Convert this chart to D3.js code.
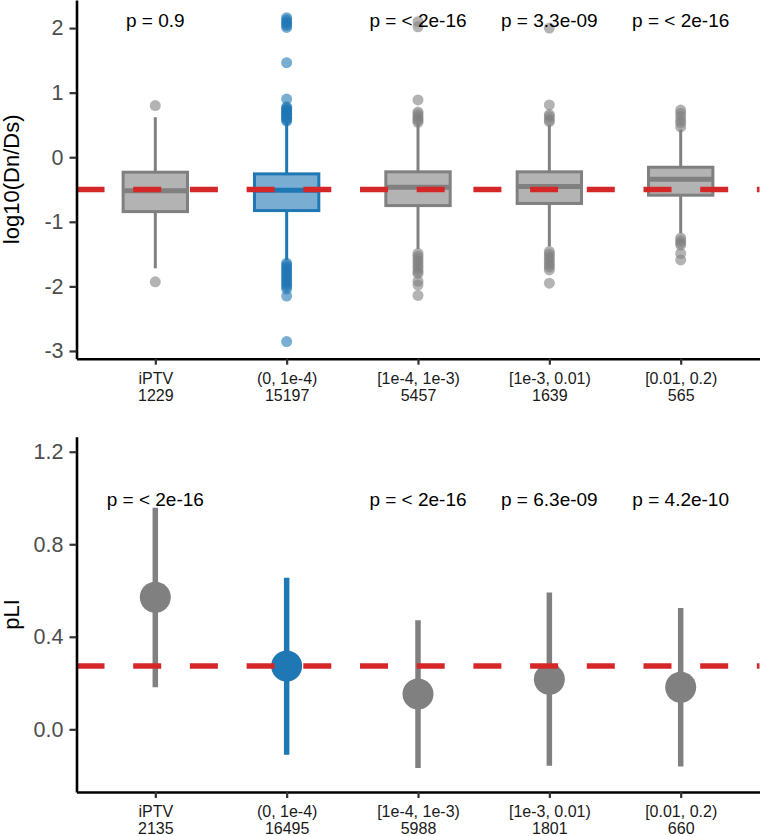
<!DOCTYPE html>
<html>
<head>
<meta charset="utf-8">
<script src="https://cdn.jsdelivr.net/npm/d3@7"></script>
<style>
  html, body { margin: 0; padding: 0; background: #fff; }
  svg { display: block; font-family: "Liberation Sans", Arial, sans-serif; }
</style>
</head>
<body>
<svg id="chart" width="764" height="836"></svg>
<script>
// ---------------- data ----------------
const categories = ["iPTV", "(0, 1e-4)", "[1e-4, 1e-3)", "[1e-3, 0.01)", "[0.01, 0.2)"];
const highlight = [false, true, false, false, false];

// panel 1: log10(Dn/Ds) boxplots
const dndsN = [1229, 15197, 5457, 1639, 565];
const dndsQ1 = [-0.842, -0.826, -0.749, -0.716, -0.588];
const dndsMedian = [-0.52, -0.51, -0.466, -0.452, -0.342];
const dndsQ3 = [-0.232, -0.258, -0.226, -0.226, -0.155];
const dndsWhiskerLow = [-1.72, -1.59, -1.42, -1.38, -1.18];
const dndsWhiskerHigh = [0.62, 0.54, 0.52, 0.50, 0.43];
const dndsOutliers = [
  [0.80, -1.93],
  [2.16, 2.13, 2.10, 2.07, 2.04, 2.01, 1.465, 0.90, 0.78, 0.76, 0.74, 0.72, 0.70, 0.68, 0.66, 0.64, 0.62, 0.60, 0.58, 0.56,
   -1.64, -1.67, -1.70, -1.73, -1.76, -1.79, -1.82, -1.85, -1.88, -1.91, -1.94, -1.97, -2.00, -2.04, -2.15, -2.855],
  [2.10, 2.02, 0.887, 0.70, 0.67, 0.63, 0.60, 0.57, 0.54,
   -1.49, -1.53, -1.57, -1.61, -1.65, -1.69, -1.73, -1.77, -1.80, -1.92, -1.98, -2.14],
  [2.0, 0.81, 0.66, 0.63, 0.58, 0.55, -1.46, -1.50, -1.54, -1.58, -1.62, -1.66, -1.70, -1.745, -1.95],
  [0.73, 0.68, 0.63, 0.57, 0.53, 0.47, -1.25, -1.29, -1.33, -1.36, -1.49, -1.59]
];
const dndsPLabels = ["p = 0.9", "", "p = < 2e-16", "p = 3.3e-09", "p = < 2e-16"];
const dndsRef = -0.50;
const dndsTicks = [-3, -2, -1, 0, 1, 2];
const dndsDomain = [-3.12, 2.435];

// panel 2: pLI point ranges
const pliN = [2135, 16495, 5988, 1801, 660];
const pliMean = [0.571, 0.274, 0.153, 0.216, 0.182];
const pliLow = [0.182, -0.110, -0.167, -0.157, -0.161];
const pliHigh = [0.958, 0.655, 0.471, 0.591, 0.524];
const pliPLabels = ["p = < 2e-16", "", "p = < 2e-16", "p = 6.3e-09", "p = 4.2e-10"];
const pliRef = 0.274;
const pliTicks = [0.0, 0.4, 0.8, 1.2];
const pliDomain = [-0.271, 1.265];

// ---------------- style ----------------
const GREY = "#808080", BLUE = "#1f77b4", RED = "#d62728";
const colorOf = i => highlight[i] ? BLUE : GREY;
const FONT = "'Liberation Sans', Arial, sans-serif";

const svg = d3.select("#chart");
const left = 76.5, right = 759.5;

const x = d3.scalePoint().domain(categories).range([left, right]).padding(0.6);
const step = x.step();

function drawAxes(g, y, ticks, fmt, top, bottom, counts, title) {
  // y axis
  const ya = g.append("g").attr("transform", `translate(${left},0)`)
    .call(d3.axisLeft(y).tickValues(ticks).tickFormat(fmt).tickSizeOuter(0).tickSizeInner(7).tickPadding(6));
  ya.select(".domain").attr("stroke", "#000").attr("stroke-width", 2.6);
  ya.selectAll(".tick line").attr("stroke", "#333").attr("stroke-width", 2.2);
  ya.selectAll(".tick text").attr("fill", "#4d4d4d").style("font-size", "21.5px")
    .style("font-family", FONT);
  // x axis
  const xa = g.append("g").attr("transform", `translate(0,${bottom})`)
    .call(d3.axisBottom(x).tickSizeOuter(0).tickSizeInner(6).tickPadding(0));
  xa.select(".domain").attr("stroke", "#000").attr("stroke-width", 2.6);
  xa.selectAll(".tick line").attr("stroke", "#333").attr("stroke-width", 2.2);
  xa.selectAll(".tick text").remove();
  xa.selectAll(".tick").each(function(d, i) {
    const t = d3.select(this).append("text")
      .attr("fill", "#1a1a1a").attr("text-anchor", "middle")
      .style("font-size", "16px").style("font-family", FONT);
    t.append("tspan").attr("x", 0).attr("y", 25.4).text(d);
    t.append("tspan").attr("x", 0).attr("y", 42.2).text(counts[i]);
  });
  // title
  g.append("text")
    .attr("transform", `translate(19,${(top + bottom) / 2}) rotate(-90)`)
    .attr("text-anchor", "middle").attr("fill", "#000")
    .style("font-size", "22px").style("font-family", FONT).text(title);
}

function refLine(g, y, v) {
  g.append("line").attr("x1", left).attr("x2", right)
    .attr("y1", y(v)).attr("y2", y(v))
    .attr("stroke", RED).attr("stroke-width", 5.5)
    .attr("stroke-dasharray", "28,28.7");
}

function pLabels(g, labels, baseline) {
  g.selectAll("text.p").data(labels).join("text").attr("class", "p")
    .attr("x", (d, i) => x(categories[i])).attr("y", baseline)
    .attr("text-anchor", "middle").attr("fill", "#000")
    .style("font-size", "19px").style("font-family", FONT).text(d => d);
}

// ---------------- panel 1 ----------------
{
  const top = 0, bottom = 358.7;
  const y = d3.scaleLinear().domain(dndsDomain).range([bottom, top]);
  const g = svg.append("g");
  const bw = step * 0.49;

  const boxes = g.append("g");
  categories.forEach((c, i) => {
    const cx = x(c), col = colorOf(i);
    const b = boxes.append("g");
    b.append("line").attr("x1", cx).attr("x2", cx)
      .attr("y1", y(dndsQ3[i])).attr("y2", y(dndsWhiskerHigh[i]))
      .attr("stroke", col).attr("stroke-width", 3);
    b.append("line").attr("x1", cx).attr("x2", cx)
      .attr("y1", y(dndsQ1[i])).attr("y2", y(dndsWhiskerLow[i]))
      .attr("stroke", col).attr("stroke-width", 3);
    b.append("rect").attr("x", cx - bw / 2).attr("width", bw)
      .attr("y", y(dndsQ3[i])).attr("height", y(dndsQ1[i]) - y(dndsQ3[i]))
      .attr("fill", col).attr("fill-opacity", 0.6)
      .attr("stroke", col).attr("stroke-width", 3);
    b.append("line").attr("x1", cx - bw / 2).attr("x2", cx + bw / 2)
      .attr("y1", y(dndsMedian[i])).attr("y2", y(dndsMedian[i]))
      .attr("stroke", col).attr("stroke-width", 5);
    b.selectAll("circle").data(dndsOutliers[i]).join("circle")
      .attr("cx", cx).attr("cy", d => y(d)).attr("r", 5.5)
      .attr("fill", col).attr("fill-opacity", 0.6);
  });

  refLine(g, y, dndsRef);
  drawAxes(g, y, dndsTicks, d => String(d), top, bottom, dndsN, "log10(Dn/Ds)");
  pLabels(g, dndsPLabels, 27.3);
}

// ---------------- panel 2 ----------------
{
  const top = 436.7, bottom = 792;
  const y = d3.scaleLinear().domain(pliDomain).range([bottom, top]);
  const g = svg.append("g");

  categories.forEach((c, i) => {
    const cx = x(c), col = colorOf(i);
    g.append("line").attr("x1", cx).attr("x2", cx)
      .attr("y1", y(pliLow[i])).attr("y2", y(pliHigh[i]))
      .attr("stroke", col).attr("stroke-width", 5.5);
    g.append("circle").attr("cx", cx).attr("cy", y(pliMean[i])).attr("r", 15.5)
      .attr("fill", col);
  });

  refLine(g, y, pliRef);
  drawAxes(g, y, pliTicks, d => d.toFixed(1), top, bottom, pliN, "pLI");
  pLabels(g, pliPLabels, 506);
}
</script>
</body>
</html>
